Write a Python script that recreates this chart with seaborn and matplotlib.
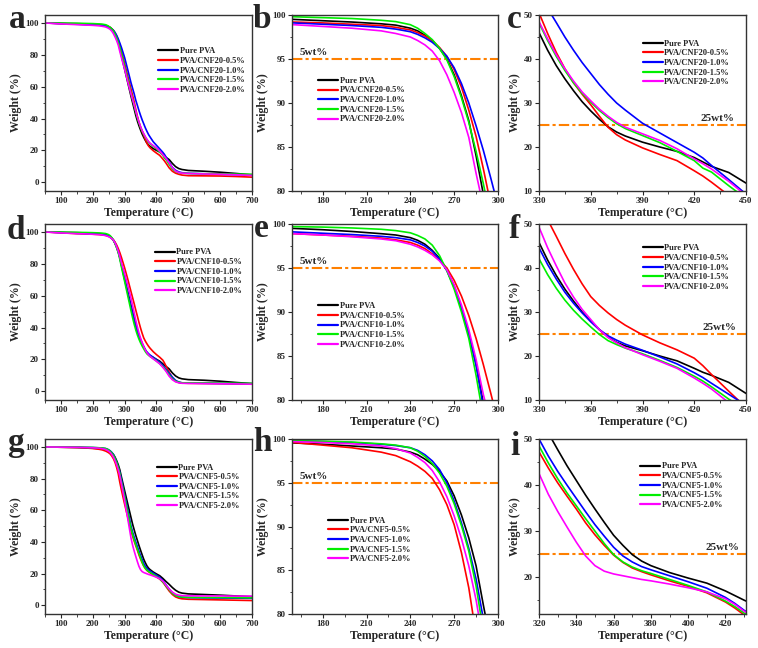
import pandas as pd
import matplotlib
matplotlib.use("Agg")
import matplotlib.pyplot as plt
import seaborn as sns
from matplotlib.lines import Line2D
from matplotlib.ticker import MultipleLocator, AutoMinorLocator

sns.set_style("ticks")
plt.rcParams['font.family'] = ['Liberation Serif', 'DejaVu Serif']
plt.rcParams['font.weight'] = 'bold'
plt.rcParams['axes.labelweight'] = 'bold'

# temperature grid (°C) shared by every TGA curve
TEMP = [50, 100, 150, 160, 180, 200, 220, 230, 240, 245,
        250, 255, 260, 265, 270, 275, 280, 285, 290, 295,
        300, 310, 320, 325, 330, 335, 340, 345, 350, 355,
        360, 365, 370, 375, 380, 390, 400, 410, 420, 425,
        430, 440, 450, 460, 470, 480, 500, 550, 600, 650,
        700]

COLORS = ['black', '#FF0000', '#0000FF', '#00EE00', '#FF00FF']

# ---- CNF20 series (weight %) ----
PURE20 = [100.0, 99.75, 99.55, 99.5, 99.35, 99.2, 99.0, 98.85, 98.5, 98.2,
          97.7, 97.1, 96.2, 95.0, 93.2, 90.8, 88.0, 84.0, 79.6, 75.3,
          71.0, 62.5, 54.0, 50.0, 46.0, 42.0, 38.5, 35.5, 32.8, 30.3,
          28.2, 26.3, 24.6, 23.4, 22.5, 21.1, 20.0, 19.0, 17.6, 16.6,
          15.6, 14.2, 11.8, 9.8, 8.6, 8.0, 7.4, 6.9, 6.3, 5.5,
          4.6]
CNF20_05 = [100.0, 99.6, 99.3, 99.2, 99.1, 98.95, 98.8, 98.6, 98.3, 98.0,
            97.6, 97.1, 96.3, 95.3, 93.8, 91.8, 89.2, 86.2, 82.5, 78.5,
            74.5, 66.5, 58.5, 54.5, 50.5, 45.8, 41.5, 37.8, 34.6, 32.0,
            29.6, 27.0, 24.5, 22.8, 21.6, 19.8, 18.3, 16.9, 14.6, 13.4,
            12.0, 9.0, 6.9, 5.7, 5.0, 4.5, 4.1, 4.0, 3.9, 3.6,
            3.2]
CNF20_10 = [100.0, 99.6, 99.2, 99.1, 98.95, 98.8, 98.6, 98.4, 98.1, 97.8,
            97.4, 96.9, 96.2, 95.3, 94.0, 92.2, 90.0, 87.4, 84.6, 81.5,
            78.3, 70.5, 62.5, 59.0, 55.5, 51.5, 48.3, 45.0, 42.0, 39.2,
            36.7, 34.2, 32.0, 30.0, 28.4, 25.4, 23.2, 21.0, 18.8, 17.5,
            15.8, 12.6, 9.3, 7.5, 6.5, 6.0, 5.6, 5.3, 5.0, 4.8,
            4.5]
CNF20_15 = [100.0, 99.9, 99.85, 99.8, 99.7, 99.6, 99.4, 99.25, 98.9, 98.5,
            97.9, 97.2, 96.2, 94.9, 93.0, 90.6, 87.8, 84.5, 80.8, 76.8,
            72.5, 64.5, 56.0, 52.0, 48.2, 44.2, 40.6, 37.4, 34.6, 32.2,
            30.2, 28.3, 26.7, 25.3, 24.2, 22.6, 21.0, 19.0, 16.9, 15.2,
            14.3, 11.2, 8.3, 6.8, 6.0, 5.7, 5.5, 5.3, 5.2, 5.1,
            5.0]
CNF20_20 = [100.0, 99.4, 98.95, 98.9, 98.7, 98.5, 98.2, 97.9, 97.5, 97.1,
            96.6, 95.9, 94.8, 93.2, 91.2, 88.9, 86.1, 82.0, 78.2, 74.5,
            71.0, 63.0, 55.5, 52.0, 48.5, 44.6, 41.0, 37.8, 35.0, 32.5,
            30.5, 28.6, 27.0, 25.6, 24.5, 23.0, 21.5, 19.6, 17.3, 16.2,
            15.0, 12.2, 9.0, 7.0, 6.1, 5.7, 5.5, 5.2, 5.0, 4.7,
            4.3]

# ---- CNF10 series ----
PURE10 = [100.0, 99.75, 99.55, 99.5, 99.35, 99.15, 98.9, 98.75, 98.45, 98.15,
          97.7, 97.0, 96.1, 94.8, 92.9, 90.5, 87.6, 84.1, 79.6, 75.2,
          70.8, 62.3, 54.0, 49.8, 45.8, 41.8, 38.3, 35.2, 32.5, 30.0,
          27.9, 26.0, 24.3, 23.1, 22.3, 21.2, 20.0, 18.9, 17.2, 16.3,
          15.6, 14.0, 11.5, 9.6, 8.4, 7.8, 7.3, 6.9, 6.3, 5.5,
          4.8]
CNF10_05 = [100.0, 99.5, 98.95, 98.9, 98.75, 98.6, 98.4, 98.2, 97.9, 97.6,
            97.2, 96.6, 95.9, 95.0, 93.6, 91.8, 89.6, 87.0, 84.0, 80.8,
            77.5, 70.3, 62.6, 58.8, 55.0, 51.0, 47.2, 43.3, 39.7, 36.4,
            33.5, 31.5, 29.8, 28.3, 27.0, 24.8, 23.0, 21.4, 19.5, 17.8,
            15.8, 12.0, 8.3, 6.3, 5.5, 5.1, 5.0, 4.9, 4.8, 4.7,
            4.6]
CNF10_10 = [100.0, 99.6, 99.15, 99.1, 98.95, 98.8, 98.6, 98.45, 98.2, 97.9,
            97.5, 96.9, 96.0, 94.7, 92.8, 90.4, 87.5, 83.9, 79.2, 74.8,
            70.2, 61.6, 53.0, 48.7, 44.6, 40.8, 37.5, 34.5, 32.0, 29.8,
            27.8, 26.0, 24.6, 23.6, 22.7, 21.3, 19.8, 18.2, 16.2, 15.1,
            13.8, 11.3, 8.8, 6.8, 5.8, 5.3, 5.1, 5.0, 4.9, 4.8,
            4.7]
CNF10_15 = [100.0, 99.9, 99.75, 99.7, 99.65, 99.55, 99.4, 99.25, 99.0, 98.7,
            98.3, 97.6, 96.4, 94.7, 92.6, 90.0, 87.0, 82.8, 78.0, 73.5,
            69.0, 59.8, 50.6, 46.2, 42.1, 38.5, 35.4, 32.7, 30.4, 28.4,
            26.6, 24.9, 23.5, 22.6, 21.8, 20.5, 19.0, 17.4, 15.4, 14.3,
            13.0, 10.2, 7.8, 6.3, 5.6, 5.3, 5.2, 5.1, 5.0, 5.0,
            4.9]
CNF10_20 = [100.0, 99.4, 98.95, 98.9, 98.75, 98.55, 98.3, 98.1, 97.7, 97.4,
            97.0, 96.5, 95.8, 94.8, 93.1, 90.8, 88.0, 84.6, 80.6, 77.4,
            74.0, 66.5, 58.4, 53.9, 49.3, 44.6, 40.5, 36.6, 33.4, 30.6,
            28.3, 26.0, 24.2, 23.0, 21.9, 20.3, 18.8, 17.2, 15.0, 13.8,
            12.5, 9.4, 7.2, 5.9, 5.3, 5.0, 4.9, 4.8, 4.7, 4.6,
            4.4]

# ---- CNF5 series ----
PURE5 = [100.0, 99.8, 99.6, 99.55, 99.4, 99.2, 99.0, 98.85, 98.5, 98.2,
         97.7, 97.1, 96.3, 95.2, 93.5, 91.3, 88.7, 85.5, 81.0, 76.7,
         72.4, 63.9, 55.5, 51.3, 47.7, 44.2, 41.0, 37.8, 34.8, 31.9,
         29.1, 26.9, 24.9, 23.5, 22.5, 21.0, 19.8, 18.7, 17.0, 16.0,
         15.0, 13.2, 11.2, 9.5, 8.3, 7.7, 7.2, 6.8, 6.4, 5.9,
         5.4]
CNF5_05 = [100.0, 99.8, 99.65, 99.6, 99.3, 99.0, 98.5, 98.1, 97.4, 96.9,
           96.3, 95.5, 94.2, 92.5, 90.2, 87.0, 83.0, 77.6, 72.8, 68.3,
           63.9, 55.5, 47.2, 43.7, 40.5, 37.6, 34.8, 31.8, 29.2, 26.9,
           24.8, 23.2, 22.0, 21.2, 20.5, 19.2, 18.0, 16.6, 14.6, 13.3,
           11.8, 9.0, 6.8, 5.3, 4.5, 4.1, 3.8, 3.6, 3.4, 3.2,
           3.0]
CNF5_10 = [100.0, 99.9, 99.85, 99.8, 99.7, 99.6, 99.4, 99.25, 99.0, 98.7,
           98.2, 97.5, 96.5, 95.0, 92.9, 90.4, 87.5, 84.0, 79.4, 74.6,
           69.8, 60.0, 50.0, 46.3, 43.0, 40.0, 37.1, 34.2, 31.4, 28.9,
           26.5, 24.6, 23.3, 22.3, 21.6, 20.3, 19.0, 17.6, 15.6, 14.3,
           12.8, 10.2, 7.8, 6.3, 5.5, 5.1, 4.9, 4.7, 4.6, 4.5,
           4.4]
CNF5_15 = [100.0, 99.9, 99.85, 99.8, 99.75, 99.65, 99.45, 99.3, 99.0, 98.6,
           98.0, 97.2, 96.1, 94.6, 92.6, 90.1, 87.2, 83.2, 78.0, 73.4,
           68.6, 58.5, 48.5, 44.8, 41.4, 38.3, 35.5, 32.7, 30.0, 27.3,
           24.9, 23.3, 22.2, 21.4, 20.8, 19.5, 18.2, 16.8, 14.8, 13.6,
           12.2, 9.8, 7.6, 6.2, 5.5, 5.2, 5.0, 4.9, 4.9, 4.8,
           4.7]
CNF5_20 = [100.0, 99.85, 99.75, 99.7, 99.6, 99.45, 99.2, 98.9, 98.4, 97.9,
           97.3, 96.4, 95.1, 93.4, 91.2, 88.6, 85.5, 81.6, 76.7, 71.4,
           66.0, 54.5, 42.5, 38.0, 34.3, 30.9, 27.6, 24.6, 22.5, 21.3,
           20.7, 20.3, 19.9, 19.5, 19.2, 18.5, 17.7, 16.8, 15.3, 14.1,
           12.6, 10.3, 8.3, 7.0, 6.4, 6.1, 6.0, 5.9, 5.9, 5.8,
           5.8]

ONSET_LINE = 95   # 5 wt% loss
MID_LINE = 25     # 25 wt% residue

W, H = 758, 648


def make_frame(name, curves):
    labels = ['Pure PVA'] + [f'PVA/{name}-{p}%' for p in ['0.5', '1.0', '1.5', '2.0']]
    rows = []
    for lab, w in zip(labels, curves):
        rows.append(pd.DataFrame({'Temperature': TEMP, 'Weight': w, 'Sample': lab}))
    return pd.concat(rows, ignore_index=True), labels


def add_axes(fig, left, top, right, bottom):
    return fig.add_axes([left / W, 1 - bottom / H, (right - left) / W, (bottom - top) / H])


def draw_panel(ax, df, labels, xlim, ylim, xstep, ystep, leg_xy, ref=None):
    sns.lineplot(data=df, x='Temperature', y='Weight', hue='Sample', hue_order=labels,
                 palette=COLORS, linewidth=1.2, estimator=None, errorbar=None,
                 legend=False, ax=ax)
    ax.set_xlim(*xlim)
    ax.set_ylim(*ylim)
    ax.xaxis.set_major_locator(MultipleLocator(xstep))
    ax.yaxis.set_major_locator(MultipleLocator(ystep))
    ax.xaxis.set_minor_locator(AutoMinorLocator(2))
    ax.yaxis.set_minor_locator(AutoMinorLocator(2))
    ax.tick_params(which='major', direction='out', length=3, width=0.8, labelsize=6.5, pad=1.5)
    ax.tick_params(which='minor', direction='out', length=1.8, width=0.6)
    for lbl in ax.get_xticklabels() + ax.get_yticklabels():
        lbl.set_fontweight('bold')
    for sp in ax.spines.values():
        sp.set_linewidth(1.0)
        sp.set_color('#333333')
    ax.set_xlabel('Temperature (°C)', fontsize=8.5, fontweight='bold', labelpad=1)
    ax.set_ylabel('Weight (%)', fontsize=8.5, fontweight='bold', labelpad=2)

    if ref is not None:
        yv, txt, tx = ref
        ax.axhline(yv, color='#FF8000', lw=1.5, ls=(0, (5, 1.5, 1.5, 1.5)), zorder=1)
        ax.text(tx, yv + (ylim[1] - ylim[0]) * 0.012, txt, fontsize=8, fontweight='bold',
                ha='left', va='bottom')

    handles = [Line2D([], [], color=c, lw=1.6) for c in COLORS]
    ax.legend(handles, labels, loc='upper left',
              bbox_to_anchor=(leg_xy[0], leg_xy[1] + 0.026),
              frameon=False, prop={'size': 6, 'weight': 'bold'},
              handlelength=2.4, handletextpad=0.2, labelspacing=0.2,
              borderpad=0, borderaxespad=0)


fig = plt.figure(figsize=(W / 100, H / 100), dpi=100)

cols = [(45, 252), (292, 498), (539, 746)]
rows = [(15, 191), (224, 400), (439, 614)]

groups = [('CNF20', [PURE20, CNF20_05, CNF20_10, CNF20_15, CNF20_20]),
          ('CNF10', [PURE10, CNF10_05, CNF10_10, CNF10_15, CNF10_20]),
          ('CNF5', [PURE5, CNF5_05, CNF5_10, CNF5_15, CNF5_20])]

legend_pos = [[(0.546, 0.79), (0.126, 0.623), (0.50, 0.834)],
              [(0.53, 0.835), (0.126, 0.53), (0.50, 0.858)],
              [(0.54, 0.834), (0.174, 0.53), (0.49, 0.84)]]

zoom_right = [((330, 450), (10, 50), 30, 423.5),
              ((330, 450), (10, 50), 30, 425.0),
              ((320, 431), (12, 50), 20, 409.5)]

for r, (name, curves) in enumerate(groups):
    df, labels = make_frame(name, curves)
    top, bottom = rows[r]

    ax = add_axes(fig, cols[0][0], top, cols[0][1], bottom)
    draw_panel(ax, df, labels, (50, 700), (-5.5, 105), 100, 20, legend_pos[r][0])

    ax = add_axes(fig, cols[1][0], top, cols[1][1], bottom)
    draw_panel(ax, df, labels, (159, 300), (80, 100), 30, 5, legend_pos[r][1],
               ref=(ONSET_LINE, '5wt%', 164))

    xl, yl, xs, tx = zoom_right[r]
    ax = add_axes(fig, cols[2][0], top, cols[2][1], bottom)
    draw_panel(ax, df, labels, xl, yl, xs, 10, legend_pos[r][2],
               ref=(MID_LINE, '25wt%', tx))

letters = [('a', 9, 28), ('b', 253, 28), ('c', 507, 28),
           ('d', 7, 239), ('e', 254, 237), ('f', 509, 238),
           ('g', 7, 451), ('h', 253, 451), ('i', 510, 455)]
for ch, x, y in letters:
    fig.text(x / W, 1 - y / H, ch, fontsize=24, fontweight='bold',
             ha='left', va='baseline')

fig.savefig('out.png', dpi=100)
